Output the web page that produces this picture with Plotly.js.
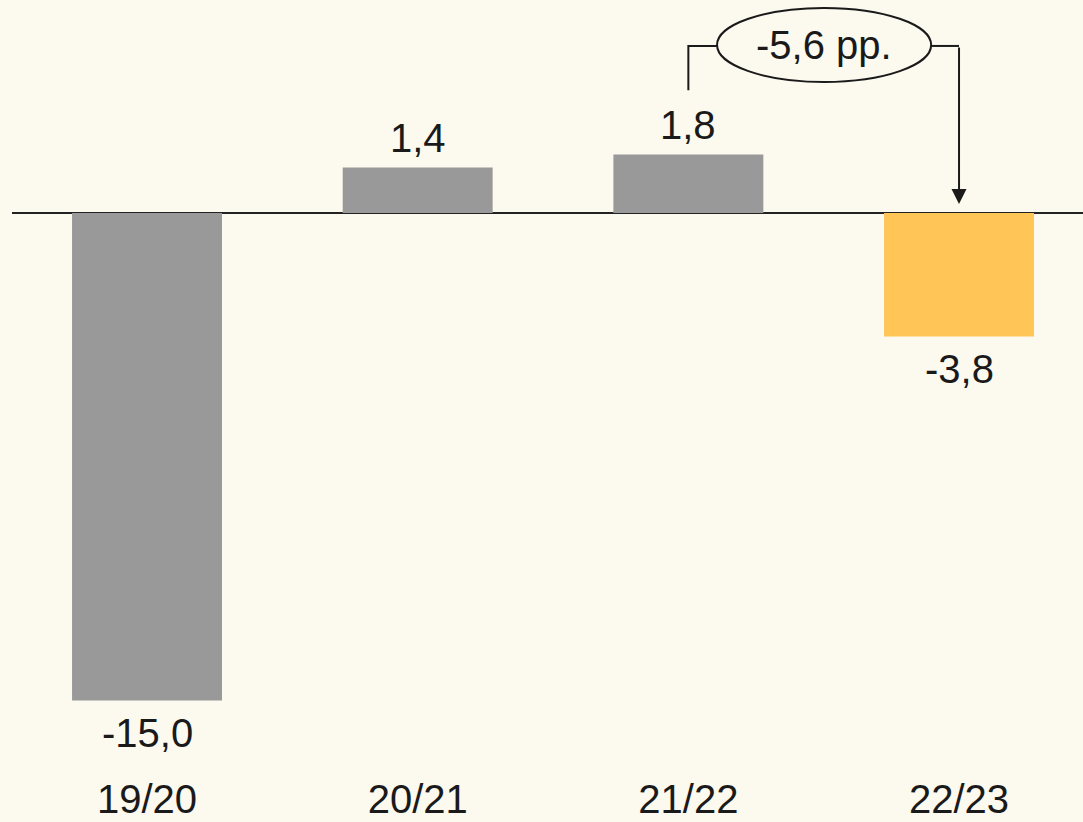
<!DOCTYPE html>
<html>
<head>
<meta charset="utf-8">
<script src="https://cdn.plot.ly/plotly-3.0.1.min.js"></script>
<style>
html,body{margin:0;padding:0;background:#FCF9EE;}
#chart{width:1083px;height:822px;}
</style>
</head>
<body>
<div id="chart"></div>
<script>
const categories = ["19/20", "20/21", "21/22", "22/23"];
const values = [-15.0, 1.4, 1.8, -3.8];
const barColors = ["#999999", "#999999", "#999999", "#FFC557"];

const fmt = v => v.toFixed(1).replace(".", ",");
const change = values[3] - values[2];
const changeLabel = fmt(change) + " pp.";

const FONT = "Liberation Sans, Arial, sans-serif";
const INK = "#1a1a1a";

const trace = {
  type: "bar",
  x: [0, 1, 2, 3],
  y: values,
  width: 0.554,
  marker: {color: barColors, line: {width: 0}},
  cliponaxis: false,
  hoverinfo: "skip"
};

const valueLabels = values.map((v, i) => ({
  xref: "x", yref: "y", x: i, y: v,
  text: fmt(v), showarrow: false,
  font: {family: FONT, size: 40, color: INK},
  xanchor: "center",
  yanchor: v >= 0 ? "bottom" : "top",
  yshift: v >= 0 ? 6 : -8
}));

const layout = {
  width: 1083,
  height: 822,
  margin: {l: 12, r: 0, t: 0, b: 50},
  paper_bgcolor: "#FCF9EE",
  plot_bgcolor: "#FCF9EE",
  showlegend: false,
  xaxis: {
    range: [-0.4988, 3.458],
    tickmode: "array",
    tickvals: [0, 1, 2, 3],
    ticktext: categories,
    ticks: "",
    ticklabelstandoff: 0,
    showgrid: false,
    zeroline: false,
    showline: false,
    tickfont: {family: FONT, size: 40, color: INK},
    fixedrange: true
  },
  yaxis: {
    range: [-17.2, 6.554],
    showticklabels: false,
    showgrid: false,
    zeroline: true,
    zerolinecolor: "#222222",
    zerolinewidth: 2,
    ticks: "",
    fixedrange: true
  },
  shapes: [
    {type: "path", xref: "x", yref: "y",
     path: "M 2,3.78 L 2,5.14 L 2.106,5.14",
     line: {color: INK, width: 2}},
    {type: "line", xref: "x", yref: "y",
     x0: 2.897, y0: 5.14, x1: 3, y1: 5.14,
     line: {color: INK, width: 2}},
    {type: "circle", xref: "x", yref: "y",
     x0: 2.106, x1: 2.897, y0: 4.03, y1: 6.31,
     fillcolor: "rgba(0,0,0,0)",
     line: {color: INK, width: 2}}
  ],
  annotations: valueLabels.concat([
    {xref: "x", yref: "y", x: 2.5, y: 5.17, text: changeLabel,
     showarrow: false, font: {family: FONT, size: 40, color: INK},
     xanchor: "center", yanchor: "middle"},
    {xref: "x", yref: "y", x: 3, y: 0.28, axref: "x", ayref: "y",
     ax: 3, ay: 5.14, text: "", showarrow: true,
     arrowhead: 2, arrowsize: 1.5, arrowwidth: 2, arrowcolor: INK}
  ])
};

Plotly.newPlot("chart", [trace], layout, {displayModeBar: false, staticPlot: true});
</script>
</body>
</html>
